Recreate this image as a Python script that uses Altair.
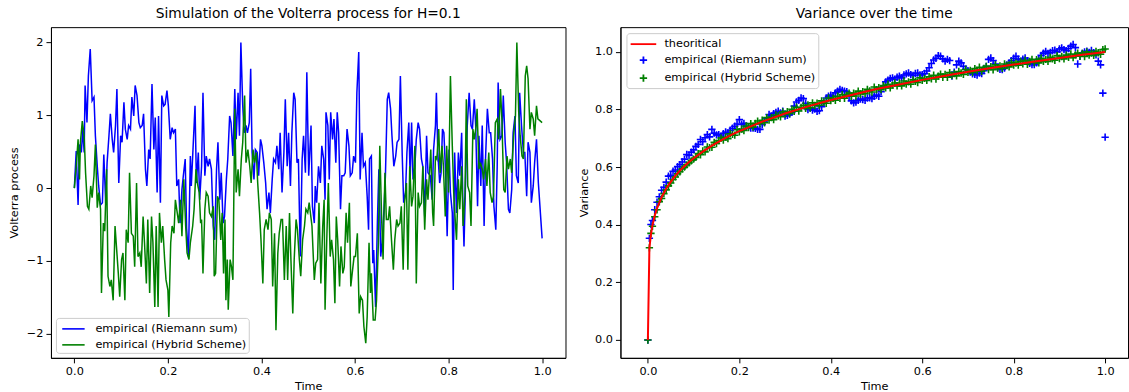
import altair as alt
import pandas as pd

RIEMANN = "empirical (Riemann sum)"
HYBRID = "empirical (Hybrid Scheme)"
THEORY = "theoritical"

# ---------------- left panel: simulated paths (time, value) ----------------
riemann_path = [
    (0.000, 0.00), (0.004, 0.51), (0.008, -0.23), (0.011, 0.60), (0.015, 0.49), (0.018, 0.81), (0.021, 0.49),
    (0.023, 1.41), (0.027, 0.90), (0.030, 1.54), (0.034, 1.91), (0.038, 1.20), (0.042, 1.25), (0.045, 0.72),
    (0.049, 0.30), (0.052, 0.03), (0.056, -0.23), (0.060, -0.20), (0.063, 0.46), (0.067, -0.20), (0.070, 0.35),
    (0.074, 0.72), (0.077, 1.02), (0.081, 0.67), (0.084, 0.49), (0.088, 0.86), (0.091, 1.36), (0.095, 0.07),
    (0.099, 0.72), (0.102, 0.63), (0.106, 1.18), (0.109, 0.81), (0.113, 0.67), (0.116, 0.86), (0.120, 0.81),
    (0.123, 1.25), (0.127, 0.99), (0.130, 1.41), (0.134, 1.27), (0.138, 0.90), (0.141, 0.83), (0.145, 0.86),
    (0.148, 1.02), (0.152, 0.26), (0.155, 0.03), (0.159, 0.53), (0.162, 0.40), (0.166, 1.43), (0.170, 0.53),
    (0.173, 0.97), (0.177, -0.06), (0.180, 0.99), (0.184, -0.20), (0.187, 1.27), (0.191, 1.13), (0.194, 1.15),
    (0.198, 1.34), (0.201, 1.13), (0.205, 0.67), (0.209, 0.83), (0.212, 0.76), (0.216, 0.81), (0.219, 0.03),
    (0.223, 0.12), (0.226, -0.48), (0.230, -0.02), (0.233, 0.17), (0.237, 0.40), (0.240, -0.55), (0.244, -0.94),
    (0.248, 0.44), (0.250, 0.03), (0.254, 0.58), (0.258, 1.13), (0.261, 0.07), (0.265, 0.49), (0.268, -0.16),
    (0.272, 0.30), (0.275, 1.31), (0.279, 0.17), (0.282, 0.44), (0.286, 0.30), (0.289, 0.40), (0.293, 0.26),
    (0.297, -0.52), (0.300, -0.71), (0.304, 0.26), (0.307, 0.63), (0.311, -0.16), (0.314, 0.21), (0.318, -0.48),
    (0.321, -0.39), (0.325, 0.12), (0.328, 0.40), (0.332, 0.99), (0.335, 0.90), (0.339, 0.44), (0.343, 1.36),
    (0.346, 0.67), (0.350, 1.31), (0.353, 0.72), (0.356, 2.00), (0.360, 1.13), (0.363, 0.76), (0.367, 0.86),
    (0.370, 0.76), (0.374, 0.90), (0.377, 1.64), (0.380, 0.49), (0.384, 0.12), (0.387, 0.53), (0.391, 0.49),
    (0.394, 0.17), (0.398, 0.67), (0.401, 0.58), (0.405, 0.35), (0.409, 0.07), (0.412, -0.29), (0.416, -0.06),
    (0.419, -0.34), (0.423, 0.12), (0.426, 0.40), (0.430, 0.35), (0.433, 0.58), (0.437, 0.26), (0.440, 0.76),
    (0.444, -0.06), (0.448, 0.49), (0.451, 1.22), (0.455, 0.30), (0.458, 0.76), (0.462, 0.03), (0.465, 0.76),
    (0.469, 1.31), (0.472, 1.22), (0.476, 0.35), (0.479, 0.40), (0.483, -0.94), (0.487, 0.40), (0.490, 0.72),
    (0.494, 0.21), (0.497, 1.59), (0.501, 0.17), (0.506, 0.86), (0.509, -0.25), (0.513, -0.48), (0.515, 0.03),
    (0.518, -0.20), (0.522, 0.30), (0.526, 0.07), (0.529, 0.58), (0.533, 0.40), (0.536, -0.16), (0.538, 1.04),
    (0.542, 0.86), (0.545, 0.12), (0.548, 1.04), (0.552, 0.67), (0.555, 0.95), (0.559, 0.35), (0.562, 1.04),
    (0.565, 0.76), (0.569, -0.29), (0.572, 0.17), (0.576, 0.17), (0.579, 0.21), (0.583, 0.81), (0.587, 0.58),
    (0.590, 0.17), (0.594, 0.21), (0.597, 0.44), (0.601, 0.35), (0.604, 1.31), (0.608, 1.87), (0.611, 0.12),
    (0.615, 0.76), (0.618, 0.30), (0.622, 0.35), (0.626, -0.11), (0.629, -0.57), (0.631, 0.40), (0.635, 0.44),
    (0.638, -1.03), (0.640, -0.85), (0.644, -1.63), (0.648, -0.43), (0.651, 0.26), (0.655, -0.94), (0.658, -0.75),
    (0.662, -0.29), (0.665, 0.17), (0.669, 1.22), (0.672, 1.31), (0.676, 1.09), (0.679, 0.72), (0.683, 0.30),
    (0.687, 0.44), (0.690, 0.63), (0.694, 0.67), (0.697, 1.54), (0.701, 0.44), (0.704, -0.20), (0.708, -0.06),
    (0.711, 0.49), (0.715, 0.90), (0.718, 0.12), (0.721, 0.90), (0.724, 0.12), (0.728, 0.30), (0.731, 0.67),
    (0.735, 0.90), (0.738, 0.81), (0.742, 0.40), (0.745, 0.30), (0.749, -0.39), (0.753, 0.72), (0.756, 0.21),
    (0.761, 0.17), (0.765, -0.16), (0.768, 0.53), (0.772, 0.86), (0.774, 1.31), (0.777, 0.49), (0.781, 0.07),
    (0.784, 0.21), (0.787, 0.81), (0.790, 0.76), (0.794, 0.17), (0.797, -0.66), (0.801, 0.53), (0.804, -0.06),
    (0.808, -0.34), (0.810, -1.40), (0.813, 0.49), (0.817, -0.34), (0.821, 0.49), (0.824, 0.17), (0.828, 0.76),
    (0.831, -0.34), (0.833, -0.80), (0.837, 0.26), (0.840, 0.86), (0.844, 1.31), (0.848, 0.86), (0.851, 0.81),
    (0.855, 1.22), (0.858, 0.86), (0.862, -0.25), (0.865, 0.72), (0.869, 0.03), (0.872, 0.86), (0.876, -0.52),
    (0.879, 0.40), (0.883, 1.09), (0.887, 0.76), (0.890, 0.76), (0.894, 0.40), (0.897, -0.25), (0.901, -0.57),
    (0.904, 0.30), (0.906, 1.45), (0.910, 0.67), (0.914, 0.72), (0.917, 1.27), (0.921, 0.63), (0.924, 0.35),
    (0.928, -0.29), (0.931, -0.34), (0.935, -0.02), (0.938, 0.76), (0.942, 0.99), (0.945, 0.17), (0.949, 0.07),
    (0.952, 1.31), (0.956, 0.86), (0.960, 0.49), (0.963, 0.49), (0.967, -0.11), (0.970, 0.63), (0.974, 0.49),
    (0.977, -0.20), (0.981, 0.03), (0.984, 0.35), (0.988, 0.67), (0.992, 0.07), (1.000, -0.69),
]

hybrid_path = [
    (0.000, 0.00), (0.004, 0.30), (0.008, 0.67), (0.011, 0.12), (0.013, 0.63), (0.017, 0.92), (0.021, 0.72),
    (0.024, 0.21), (0.028, -0.25), (0.031, -0.29), (0.035, 0.03), (0.038, -0.13), (0.042, 0.17), (0.045, 0.60),
    (0.049, -0.27), (0.052, -0.06), (0.056, -0.29), (0.058, -1.44), (0.062, -0.48), (0.065, -0.59), (0.069, 0.26),
    (0.072, -1.21), (0.076, -1.35), (0.079, -1.26), (0.083, -1.54), (0.087, -0.52), (0.090, -0.80), (0.094, -1.17),
    (0.097, -1.49), (0.101, -0.98), (0.104, -0.89), (0.108, -1.54), (0.111, -0.57), (0.115, -0.75), (0.118, 0.21),
    (0.122, -0.62), (0.126, -0.66), (0.129, -1.08), (0.133, 0.07), (0.136, -0.94), (0.140, -0.89), (0.143, -1.08),
    (0.147, -0.39), (0.150, -0.75), (0.154, -1.31), (0.157, -0.43), (0.161, -1.44), (0.165, -0.39), (0.168, -0.75),
    (0.172, -1.63), (0.175, -0.52), (0.179, -1.63), (0.182, -0.34), (0.186, -0.75), (0.189, -0.52), (0.193, -0.98),
    (0.196, -1.26), (0.200, -1.40), (0.202, -1.77), (0.206, -0.75), (0.209, -0.52), (0.213, -0.62), (0.216, -0.16),
    (0.220, -0.34), (0.223, -0.48), (0.227, -0.16), (0.230, -0.66), (0.234, 0.12), (0.238, -0.52), (0.241, -0.89),
    (0.245, -0.98), (0.248, -0.75), (0.253, -0.52), (0.256, -0.29), (0.260, 0.26), (0.263, 0.07), (0.267, -0.06),
    (0.270, -0.48), (0.272, -0.43), (0.275, -1.17), (0.279, -0.29), (0.282, -0.06), (0.286, -0.11), (0.289, -0.34),
    (0.293, -0.39), (0.297, -0.25), (0.299, -1.21), (0.302, -1.17), (0.306, -0.11), (0.309, -0.16), (0.313, -0.71),
    (0.316, -0.34), (0.319, -1.17), (0.322, -0.43), (0.324, -1.54), (0.327, -0.98), (0.329, -1.67), (0.333, -0.98),
    (0.336, -1.08), (0.339, -1.26), (0.343, 1.09), (0.346, -0.06), (0.350, 0.26), (0.353, -0.11), (0.357, 0.40),
    (0.360, 0.63), (0.364, 1.27), (0.367, 0.35), (0.371, 0.53), (0.375, 0.30), (0.378, 0.07), (0.382, 0.53),
    (0.385, 0.35), (0.389, 0.49), (0.392, 0.07), (0.396, -0.34), (0.399, -0.71), (0.403, -1.31), (0.406, -0.57),
    (0.410, -0.43), (0.414, -0.57), (0.417, -0.34), (0.421, -0.43), (0.424, -1.35), (0.428, -0.62), (0.431, -1.95),
    (0.435, -0.89), (0.438, -0.62), (0.442, -0.43), (0.445, -0.43), (0.449, -1.26), (0.453, -0.52), (0.456, -1.26),
    (0.460, -0.34), (0.463, -0.98), (0.467, -1.72), (0.470, -0.98), (0.474, -0.43), (0.477, -0.57), (0.481, -0.98),
    (0.484, -1.21), (0.488, -0.71), (0.492, -0.52), (0.495, -0.29), (0.499, -0.34), (0.502, -0.20), (0.508, -0.52),
    (0.513, -1.26), (0.516, -1.03), (0.520, -0.98), (0.523, -0.20), (0.527, -1.31), (0.531, -0.52), (0.534, -0.16),
    (0.536, -1.67), (0.540, -0.62), (0.543, 0.07), (0.547, -0.94), (0.550, -0.71), (0.554, -0.98), (0.557, -1.58),
    (0.560, -0.39), (0.563, -0.71), (0.567, -1.35), (0.570, -0.80), (0.574, -1.17), (0.577, -1.08), (0.581, -0.34),
    (0.584, -0.75), (0.588, -0.20), (0.591, -1.35), (0.594, -1.17), (0.598, -0.94), (0.601, -0.94), (0.605, -0.62),
    (0.609, -1.72), (0.612, -1.49), (0.616, -1.54), (0.619, -1.90), (0.623, -2.13), (0.626, -1.77), (0.630, -0.75),
    (0.633, -1.44), (0.635, -1.17), (0.639, -1.81), (0.643, -1.81), (0.646, -1.54), (0.650, -0.75), (0.653, 0.58),
    (0.657, -0.43), (0.660, -0.98), (0.664, 0.21), (0.667, -0.43), (0.671, -0.43), (0.674, -0.25), (0.678, -0.71),
    (0.682, -1.12), (0.685, -0.71), (0.689, -0.43), (0.692, -0.52), (0.696, -0.48), (0.699, -0.25), (0.703, -1.12),
    (0.706, -0.20), (0.710, 0.07), (0.713, -1.12), (0.717, 0.30), (0.721, -0.25), (0.724, -0.11), (0.728, 0.58),
    (0.731, -1.31), (0.735, -0.06), (0.738, -0.25), (0.742, -0.20), (0.745, 0.30), (0.749, -0.57), (0.753, 0.12),
    (0.756, -0.16), (0.762, 0.53), (0.766, -0.34), (0.768, -0.52), (0.772, 0.44), (0.775, 0.40), (0.779, 0.81),
    (0.782, 0.21), (0.786, 0.58), (0.789, 0.30), (0.793, -0.39), (0.796, 0.58), (0.800, -0.06), (0.804, 1.54),
    (0.808, 0.58), (0.811, -0.06), (0.815, -0.52), (0.817, -0.71), (0.821, 0.12), (0.824, -0.29), (0.828, 0.30),
    (0.831, -0.52), (0.835, -0.11), (0.838, 1.22), (0.841, 0.03), (0.845, -0.06), (0.848, -0.52), (0.852, 0.81),
    (0.855, 0.67), (0.859, 0.86), (0.861, 1.09), (0.865, 0.26), (0.868, 0.35), (0.872, 0.26), (0.875, 0.12),
    (0.879, 0.40), (0.882, 0.03), (0.886, 0.49), (0.889, -0.06), (0.893, -0.20), (0.896, -0.11), (0.900, 0.90),
    (0.904, 0.95), (0.907, 0.67), (0.911, 1.36), (0.914, 0.95), (0.918, -0.02), (0.921, -0.06), (0.925, 0.44),
    (0.928, 0.26), (0.932, 0.40), (0.935, 0.21), (0.939, 0.72), (0.943, 0.99), (0.946, 2.00), (0.950, 1.04),
    (0.953, 0.72), (0.957, 0.44), (0.960, 0.40), (0.964, 1.54), (0.967, 1.68), (0.970, 1.50), (0.974, 0.81),
    (0.977, 1.04), (0.981, 0.95), (0.984, 0.72), (0.988, 1.13), (0.991, 0.95), (1.000, 0.90),
]

# ---------------- right panel: variance ----------------
theory_curve = [
    (0.0, 0.0), (0.0033, 0.319), (0.0067, 0.367), (0.01, 0.398), (0.015, 0.432), (0.02, 0.457), (0.03, 0.496),
    (0.04, 0.525), (0.05, 0.549), (0.06, 0.570), (0.07, 0.588), (0.08, 0.603), (0.09, 0.618), (0.10, 0.631),
    (0.12, 0.654), (0.14, 0.675), (0.16, 0.693), (0.18, 0.710), (0.20, 0.725), (0.25, 0.758), (0.30, 0.786),
    (0.35, 0.811), (0.40, 0.833), (0.45, 0.852), (0.50, 0.871), (0.55, 0.887), (0.60, 0.903), (0.65, 0.917),
    (0.70, 0.931), (0.75, 0.944), (0.80, 0.956), (0.85, 0.968), (0.90, 0.979), (0.95, 0.990), (1.00, 1.000),
]

# sampling times of the variance estimates (evenly spaced grid)
var_time = [0.0, 0.0033, 0.0067] + [round(0.010 + 0.005 * i, 3) for i in range(199)]

var_riemann = [
    0.0, 0.353, 0.401,
    0.415, 0.452, 0.478, 0.497, 0.520, 0.530, 0.548, 0.569, 0.572, 0.586,
    0.590, 0.602, 0.609, 0.618, 0.628, 0.644, 0.641, 0.652, 0.660, 0.672,
    0.679, 0.696, 0.688, 0.702, 0.713, 0.705, 0.731, 0.718, 0.712, 0.713,
    0.708, 0.716, 0.722, 0.719, 0.728, 0.735, 0.742, 0.750, 0.765, 0.748,
    0.752, 0.742, 0.740, 0.736, 0.736, 0.735, 0.731, 0.731, 0.748, 0.757,
    0.770, 0.783, 0.778, 0.786, 0.790, 0.794, 0.788, 0.794, 0.777, 0.780,
    0.784, 0.790, 0.812, 0.826, 0.832, 0.840, 0.838, 0.822, 0.800, 0.804,
    0.798, 0.802, 0.794, 0.796, 0.810, 0.822, 0.840, 0.846, 0.850, 0.845,
    0.858, 0.864, 0.870, 0.866, 0.864, 0.862, 0.846, 0.830, 0.823, 0.826,
    0.832, 0.836, 0.835, 0.832, 0.840, 0.841, 0.838, 0.846, 0.850, 0.846,
    0.862, 0.880, 0.896, 0.902, 0.908, 0.910, 0.905, 0.912, 0.916, 0.910,
    0.920, 0.924, 0.927, 0.921, 0.918, 0.925, 0.927, 0.920, 0.921, 0.925,
    0.934, 0.945, 0.960, 0.972, 0.978, 0.987, 0.985, 0.976, 0.968, 0.974,
    0.970, 0.916, 0.930, 0.955, 0.968, 0.962, 0.950, 0.940, 0.935, 0.930,
    0.924, 0.922, 0.920, 0.927, 0.925, 0.935, 0.950, 0.974, 0.979, 0.970,
    0.958, 0.945, 0.940, 0.939, 0.944, 0.955, 0.962, 0.970, 0.978, 0.985,
    0.975, 0.968, 0.975, 0.979, 0.970, 0.960, 0.956, 0.956, 0.962, 0.975,
    0.988, 0.996, 1.002, 0.995, 0.998, 1.004, 1.006, 1.000, 1.010, 1.014,
    1.008, 1.004, 1.012, 1.020, 1.026, 1.015, 0.958, 0.985, 0.995, 1.000,
    1.003, 0.998, 1.005, 0.997, 0.990, 0.968, 0.955, 0.857, 0.704,
]

var_hybrid = [
    0.0, 0.320, 0.370,
    0.395, 0.428, 0.452, 0.480, 0.491, 0.508, 0.521, 0.535, 0.545, 0.557,
    0.566, 0.577, 0.584, 0.594, 0.600, 0.608, 0.615, 0.622, 0.628, 0.634,
    0.647, 0.643, 0.656, 0.653, 0.670, 0.668, 0.669, 0.686, 0.682, 0.692,
    0.701, 0.694, 0.704, 0.699, 0.716, 0.714, 0.711, 0.730, 0.723, 0.732,
    0.727, 0.743, 0.737, 0.751, 0.739, 0.752, 0.760, 0.751, 0.763, 0.754,
    0.772, 0.763, 0.772, 0.765, 0.781, 0.778, 0.775, 0.792, 0.784, 0.793,
    0.786, 0.801, 0.794, 0.808, 0.795, 0.807, 0.814, 0.804, 0.816, 0.806,
    0.823, 0.814, 0.822, 0.815, 0.830, 0.826, 0.822, 0.840, 0.831, 0.839,
    0.832, 0.846, 0.839, 0.852, 0.839, 0.850, 0.857, 0.846, 0.857, 0.847,
    0.864, 0.854, 0.862, 0.855, 0.870, 0.865, 0.861, 0.878, 0.869, 0.876,
    0.869, 0.883, 0.875, 0.888, 0.875, 0.885, 0.892, 0.882, 0.892, 0.882,
    0.899, 0.888, 0.896, 0.888, 0.903, 0.898, 0.894, 0.910, 0.901, 0.908,
    0.901, 0.914, 0.907, 0.919, 0.906, 0.916, 0.923, 0.912, 0.922, 0.912,
    0.928, 0.918, 0.925, 0.917, 0.932, 0.927, 0.922, 0.939, 0.929, 0.936,
    0.929, 0.942, 0.934, 0.947, 0.933, 0.943, 0.950, 0.939, 0.949, 0.938,
    0.955, 0.944, 0.951, 0.943, 0.958, 0.953, 0.948, 0.964, 0.954, 0.961,
    0.954, 0.967, 0.959, 0.971, 0.957, 0.967, 0.974, 0.963, 0.973, 0.962,
    0.978, 0.967, 0.974, 0.967, 0.981, 0.976, 0.971, 0.987, 0.977, 0.984,
    0.976, 0.989, 0.981, 0.993, 0.980, 0.990, 0.996, 0.985, 0.995, 0.984,
    1.000, 0.989, 0.996, 0.988, 1.002, 0.997, 0.992, 1.008, 1.010,
]

x_ticks = [0.0, 0.2, 0.4, 0.6, 0.8, 1.0]
left_y_ticks = [-2, -1, 0, 1, 2]
right_y_ticks = [0.0, 0.2, 0.4, 0.6, 0.8, 1.0]

# ---------------- build tables ----------------
left_df = pd.DataFrame(
    [{"t": t, "v": v, "series": RIEMANN} for t, v in riemann_path]
    + [{"t": t, "v": v, "series": HYBRID} for t, v in hybrid_path]
)
scatter_df = pd.DataFrame(
    [{"t": t, "v": v, "series": RIEMANN} for t, v in zip(var_time, var_riemann)]
    + [{"t": t, "v": v, "series": HYBRID} for t, v in zip(var_time, var_hybrid)]
)
theory_df = pd.DataFrame([{"t": t, "v": v, "series": THEORY} for t, v in theory_curve])

FS = 11.3
legend_common = dict(
    title=None, labelFontSize=FS, labelFont="DejaVu Sans", labelColor="black",
    padding=2, rowPadding=1, strokeColor="#cccccc", fillColor="rgba(255,255,255,0.8)",
    cornerRadius=3, symbolSize=256,
)

# ---------------- left chart ----------------
left = alt.Chart(left_df).mark_line(strokeWidth=1.5).encode(
    x=alt.X("t:Q", scale=alt.Scale(domain=[-0.05, 1.05], nice=False, zero=False),
            axis=alt.Axis(values=x_ticks, format=".1f", title="Time")),
    y=alt.Y("v:Q", scale=alt.Scale(domain=[-2.33, 2.21], nice=False, zero=False),
            axis=alt.Axis(values=left_y_ticks, format="d", title="Volterra process")),
    color=alt.Color("series:N",
                    scale=alt.Scale(domain=[RIEMANN, HYBRID], range=["#0000ff", "#008000"]),
                    legend=alt.Legend(orient="bottom-left", offset=5, symbolType="M-1.4,0L1.4,0",
                                      symbolStrokeWidth=1.6, symbolOffset=6.5, labelOffset=13,
                                      **legend_common)),
).properties(width=515, height=331, title="Simulation of the Volterra process for H=0.1")

# ---------------- right chart ----------------
PLUS = "M-0.46,0L0.46,0M0,-0.46L0,0.46"
DASH = "M-1.6,0L1.6,0"
color_scale = alt.Scale(domain=[THEORY, RIEMANN, HYBRID], range=["#ff0000", "#0000ff", "#008000"])
shape_scale = alt.Scale(domain=[THEORY, RIEMANN, HYBRID], range=[DASH, PLUS, PLUS])
right_legend = alt.Legend(orient="top-left", offset=6, symbolStrokeWidth=1.8, symbolOffset=6,
                          labelOffset=12, **legend_common)

xr = alt.X("t:Q", scale=alt.Scale(domain=[-0.06, 1.05], nice=False, zero=False),
           axis=alt.Axis(values=x_ticks, format=".1f", title="Time"))
yr = alt.Y("v:Q", scale=alt.Scale(domain=[-0.062, 1.086], nice=False, zero=False),
           axis=alt.Axis(values=right_y_ticks, format=".1f", title="Variance"))

points = alt.Chart(scatter_df).mark_point(filled=False, size=256, strokeWidth=1.6, opacity=1).encode(
    x=xr, y=yr,
    color=alt.Color("series:N", scale=color_scale, legend=right_legend),
    shape=alt.Shape("series:N", scale=shape_scale, legend=right_legend),
)
curve = alt.Chart(theory_df).mark_line(strokeWidth=2).encode(
    x=xr, y=yr,
    color=alt.Color("series:N", scale=color_scale, legend=right_legend),
)
right = alt.layer(points, curve).properties(width=508, height=331, title="Variance over the time")

chart = (
    alt.hconcat(left, right, spacing=11)
    .resolve_scale(color="independent", shape="independent")
    .resolve_legend(color="independent", shape="independent")
    .properties(padding={"left": 8, "top": 6, "right": 0, "bottom": 0})
    .configure(font="DejaVu Sans")
    .configure_view(stroke="black", strokeWidth=1)
    .configure_axis(grid=False, domainColor="black", tickColor="black", labelColor="black",
                    titleColor="black", tickSize=5, labelPadding=3, labelFontSize=FS,
                    titleFontSize=FS, titleFontWeight="normal", labelFont="DejaVu Sans",
                    titleFont="DejaVu Sans", labelFlush=False)
    .configure_axisY(minExtent=27, maxExtent=27, titlePadding=4)
    .configure_axisX(titlePadding=3)
    .configure_title(font="DejaVu Sans", fontSize=13.8, fontWeight="normal", color="black",
                     offset=6, anchor="middle")
)

chart.save("out.html", embed_options={"renderer": "svg", "actions": False})
